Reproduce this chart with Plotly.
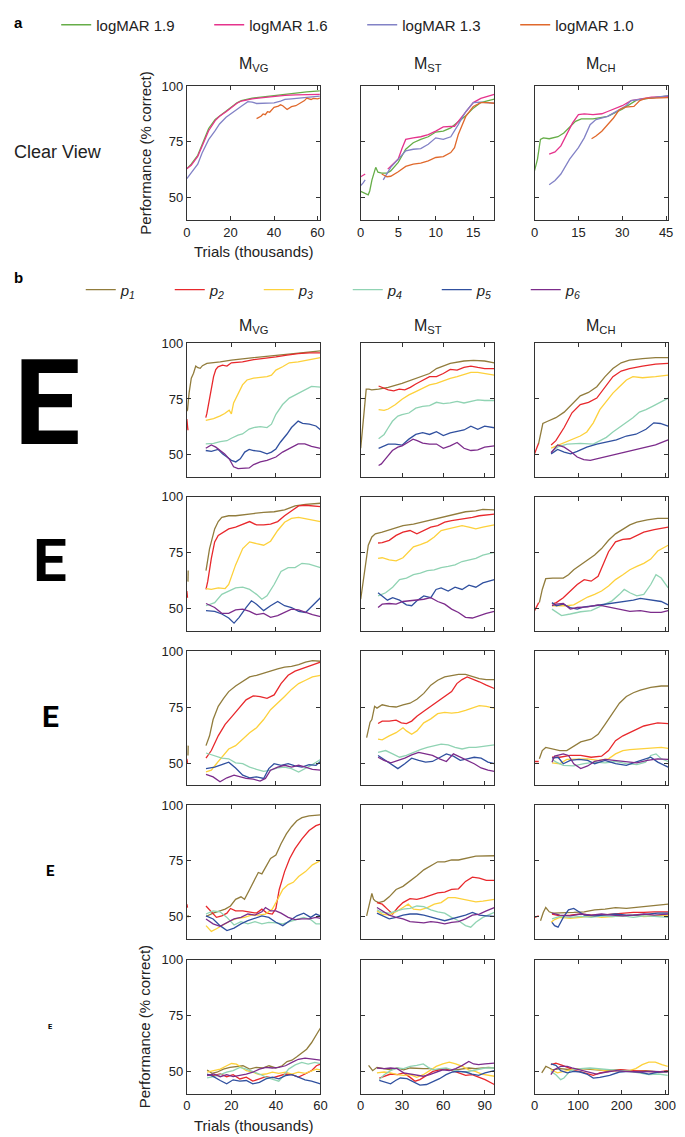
import plotly.graph_objects as go

# page body has an 8px margin; figure is sized so that it ends at the window edge
OFF_X, OFF_Y = 8, 12
W, H = 685 - 8, 1137 - 8
FONT = "Liberation Sans, Arial, sans-serif"

# ---------------- Panel a : categories / styles ----------------
A_NAMES = ["logMAR 1.9", "logMAR 1.6", "logMAR 1.3", "logMAR 1.0"]
A_KEYS = ["19", "16", "13", "10"]
A_COLORS = ["#66ad48", "#e5338c", "#8282c6", "#e0692c"]
MODELS = ["VG", "ST", "CH"]
MODEL_TITLES = ["M<sub>VG</sub>", "M<sub>ST</sub>", "M<sub>CH</sub>"]
A_XTICKS = {"VG": [0, 20, 40, 60], "ST": [0, 5, 10, 15], "CH": [0, 15, 30, 45]}
A_XRANGE = {"VG": [0, 61.3], "ST": [0, 17.8], "CH": [0, 45.7]}
Y_TICKS = [50, 75, 100]

# ---------------- Panel a : data (thousands of trials, % correct) ----------------
A_VG_19_X = [0, 2, 5, 7, 10, 13, 15, 18, 20, 23, 25, 28, 30, 35, 40, 45, 50, 55, 61]
A_VG_19_Y = [63, 65, 69, 74, 81, 85, 86.5, 88.5, 90.2, 92.5, 93.5, 94.2, 94.6, 95.2, 95.8, 96.3, 96.9, 97.4, 97.8]
A_VG_16_X = [0, 2, 5, 7, 10, 13, 15, 18, 20, 23, 25, 28, 30, 35, 40, 45, 50, 55, 61]
A_VG_16_Y = [63, 64.5, 68.5, 73, 80, 84.5, 86.5, 88.5, 90, 92.3, 93.3, 94, 94.3, 94.8, 95.4, 95.8, 96.1, 96.2, 96.3]
A_VG_13_X = [0, 2, 5, 7, 10, 13, 15, 18, 20, 23, 25, 28, 30, 32, 35, 38, 40, 43, 45, 48, 50, 55, 61]
A_VG_13_Y = [58.5, 61, 65, 70, 76, 80, 83, 86, 87.5, 89.5, 91, 93, 92.8, 92.2, 92.3, 92.2, 92.5, 93.3, 94, 94.3, 94.5, 95, 95.5]
A_VG_10_X = [32, 34, 35, 36, 37, 38, 40, 42, 43, 44, 46, 47, 48, 50, 52, 54, 55, 57, 58, 60, 61]
A_VG_10_Y = [85.4, 86.5, 87.5, 87.2, 88.5, 88.3, 90.5, 91, 91.6, 91.2, 89.5, 90, 90.8, 91.2, 92.5, 93.5, 94.6, 94, 94.5, 94.3, 94.6]

A_ST_19_X = [0, 0.5, 1, 1.2, 1.5, 2, 2.3, 2.8, 3.5, 4, 5, 6, 7, 8, 9, 10, 11, 12, 13, 14, 15, 16, 17, 17.8]
A_ST_19_Y = [52.8, 52.2, 51.3, 53, 58, 63.6, 61.4, 61, 61, 62, 65.8, 71.7, 74.6, 76.1, 77.3, 79.4, 79.8, 81.3, 84.2, 86.7, 90.1, 92.6, 93.5, 94.1]
A_ST_16_X = [0, 0.3, 0.6, None, 3.6, 4, 5, 5.5, 6, 7, 8, 9, 10, 11, 12, 12.5, 13, 14, 15, 16, 17, 17.8]
A_ST_16_Y = [59.4, 60, 60.6, None, 62.8, 64, 67.3, 72, 76.1, 76.8, 77.3, 78.3, 79.8, 81.7, 82, 82, 84.2, 88.6, 92.6, 94.5, 95.5, 96.3]
A_ST_13_X = [0, 0.3, 0.6, None, 3, 4, 5, 6, 7, 8, 9, 10, 11, 12, 13, 14, 15, 16, 17, 17.8]
A_ST_13_Y = [55.5, 56.5, 58, None, 58, 63.6, 67.3, 71, 71.7, 72, 73.9, 76.8, 76.1, 77.3, 82.7, 88.6, 92.6, 92.8, 92.5, 92.3]
A_ST_10_X = [2.8, 3.5, 4, 5, 6, 7, 8, 9, 10, 11, 12, 12.5, 13, 14, 15, 16, 17, 17.8]
A_ST_10_Y = [60.6, 59.4, 59.6, 61.6, 64, 65, 65.5, 66.5, 68, 68.4, 70.2, 72.4, 78.3, 86.4, 90.9, 92.6, 92.6, 92.3]

A_CH_19_X = [0, 1, 2, 3, 5, 8, 10, 12, 14, 16, 20, 25, 30, 35, 40, 45.7]
A_CH_19_Y = [62.1, 67.3, 76.1, 76.8, 76.4, 77.3, 79, 81.7, 84.2, 85.3, 85.3, 86.4, 89.7, 93.8, 94.8, 95.6]
A_CH_16_X = [5, 7, 9, 11, 13, 15, 17, 20, 23, 25, 30, 33, 37, 40, 45.7]
A_CH_16_Y = [69.5, 70.5, 73.2, 78.3, 83.5, 87.2, 87.5, 87.2, 87.6, 88.6, 91.2, 93.5, 94.5, 95, 95.3]
A_CH_13_X = [5, 7, 9, 12, 15, 17, 19, 21, 25, 28, 31, 33, 37, 45.7]
A_CH_13_Y = [55.8, 57.7, 60.6, 67.3, 72.4, 76.8, 82.7, 85, 86.4, 88.6, 90.9, 93.5, 94.2, 95.7]
A_CH_10_X = [19.5, 21, 23, 25, 27, 29, 31, 34, 36, 38, 45.7]
A_CH_10_Y = [76.4, 77.6, 79.8, 82.7, 85.7, 89.4, 90.6, 90.9, 93.5, 94.5, 94.8]

# ---------------- Panel b : categories / styles ----------------
B_NAMES = ["<i>p<sub>1</sub></i>", "<i>p<sub>2</sub></i>", "<i>p<sub>3</sub></i>",
           "<i>p<sub>4</sub></i>", "<i>p<sub>5</sub></i>", "<i>p<sub>6</sub></i>"]
B_COLORS = ["#917c3c", "#e8282c", "#fdd13b", "#90d3b3", "#30509f", "#7c2c8b"]
B_XTICKS = {"VG": [0, 20, 40, 60], "ST": [0, 30, 60, 90], "CH": [0, 100, 200, 300]}
B_XRANGE = {"VG": [0, 60], "ST": [0, 97], "CH": [0, 307]}
E_SIZES = [118, 60, 30, 15, 7.5]   # optotype font sizes, one per row

# ---------------- Panel b : data ----------------
# Row 1
B1_VG_P1_X = [0, 0.3, 1, 2, 3, 4, 5, 6, 7, 9, 15, 20, 30, 40, 50, 60]
B1_VG_P1_Y = [69.6, 70, 77.6, 84.3, 86.5, 89.7, 89, 88.7, 89.9, 90.9, 91.6, 92.4, 93.5, 94.6, 95.7, 96.5]
B1_VG_P2_X = [0, 0.5, None, 8.5, 9, 10, 11, 12, 13, 14, 16, 18, 20, 25, 30, 35, 40, 45, 50, 55, 60]
B1_VG_P2_Y = [66, 61, None, 66.6, 68.5, 74, 80.6, 85, 88.2, 89.4, 90.1, 89.7, 91.2, 91.6, 92.6, 93.1, 93.8, 94.6, 95.3, 95.6, 95.6]
B1_VG_P3_X = [8.5, 12, 15, 17, 19, 20, 21, 23, 25, 27, 30, 33, 36, 38, 40, 43, 46, 50, 55, 60]
B1_VG_P3_Y = [65.4, 66.2, 67.4, 68.5, 70, 68.3, 73.2, 77.6, 81.3, 83.5, 84.3, 84.7, 85, 85.7, 87.9, 89.4, 91.2, 91.6, 92.6, 93.5]
B1_VG_P4_X = [8.5, 12, 15, 18, 20, 23, 25, 28, 30, 33, 36, 38, 40, 43, 46, 50, 53, 56, 60]
B1_VG_P4_Y = [54.9, 55.1, 55.9, 56.3, 57.4, 58.8, 59.3, 61.5, 62.2, 62.6, 62.2, 63.7, 68.1, 72.5, 75.4, 77.6, 79.1, 80.6, 80.3]
B1_VG_P5_X = [8.5, 11, 14, 16, 18, 20, 22, 24, 26, 28, 30, 33, 36, 38, 40, 42, 45, 47, 50, 52, 55, 58, 60]
B1_VG_P5_Y = [51.9, 51.5, 52.4, 50.4, 49, 47.5, 46.8, 48.2, 51.2, 52.4, 51.9, 51.5, 50.4, 51.2, 52.6, 55.6, 59.3, 62.2, 65.1, 64.1, 63.7, 62.9, 61.2]
B1_VG_P6_X = [8.5, 11, 13, 15, 17, 19, 21, 23, 26, 28, 30, 33, 36, 40, 43, 46, 50, 53, 56, 60]
B1_VG_P6_Y = [52.9, 54.4, 53.4, 51.9, 50.4, 48.2, 44.6, 43.8, 43.8, 44.1, 45.6, 46.8, 47.5, 49, 51.2, 52.9, 54.9, 54.9, 53.8, 52.9]

B1_ST_P1_X = [0, 1, 2, 3, 4, 6, 8, 13, 20, 30, 40, 50, 55, 65, 75, 82, 90, 97]
B1_ST_P1_Y = [52.9, 60, 68.8, 76.1, 79.4, 79.4, 79.1, 79.4, 80.2, 82, 84.2, 86.4, 88.6, 90.9, 92, 92.3, 92, 91.2]
B1_ST_P2_X = [13, 17, 20, 24, 28, 32, 36, 40, 45, 50, 55, 60, 65, 70, 75, 80, 85, 90, 97]
B1_ST_P2_Y = [80.8, 79.8, 79.1, 78.6, 79.4, 79.1, 80.2, 81.7, 83.5, 85, 85, 86.4, 88.2, 87.9, 89.1, 89.7, 89.1, 88.6, 88.6]
B1_ST_P3_X = [13, 17, 20, 25, 30, 35, 40, 45, 50, 55, 60, 65, 70, 75, 80, 85, 90, 97]
B1_ST_P3_Y = [70.2, 69.9, 70.5, 72.4, 74.9, 76.8, 78.3, 79.8, 81.3, 82, 83.2, 84.2, 85, 86, 86.9, 86.9, 86.4, 85.7]
B1_ST_P4_X = [13, 17, 20, 23, 27, 30, 35, 40, 45, 50, 55, 60, 65, 70, 75, 80, 85, 90, 97]
B1_ST_P4_Y = [57.2, 59.1, 62.1, 65, 67.3, 68, 68.7, 70.9, 71.7, 72, 73.5, 72.9, 73.2, 73.9, 73.2, 73.9, 74.6, 74.3, 74.3]
B1_ST_P5_X = [13, 17, 20, 25, 30, 35, 40, 45, 50, 55, 60, 65, 70, 75, 80, 85, 90, 97]
B1_ST_P5_Y = [52.9, 54, 54.8, 54.8, 54.3, 57, 59.1, 59.9, 59.1, 60.3, 58.6, 59.8, 60.3, 61.1, 62.8, 61.4, 62.8, 62.1]
B1_ST_P6_X = [13, 15, 18, 20, 23, 27, 30, 35, 38, 41, 45, 50, 55, 60, 65, 70, 75, 80, 85, 90, 97]
B1_ST_P6_Y = [45.2, 45.9, 48.2, 49.7, 51.9, 53.4, 54, 55.8, 57, 56.3, 55.2, 54.8, 54.8, 52.9, 54, 55.5, 52.9, 51.9, 52.2, 53.4, 54]

B1_CH_P1_X = [9, 14, 19, 30, 49, 68, 86, 105, 124, 143, 162, 180, 199, 218, 248, 278, 307]
B1_CH_P1_Y = [54.8, 60, 64, 65, 66.6, 69.1, 72.5, 76.4, 77.9, 80.5, 85, 88.6, 91.2, 92.4, 93.1, 93.5, 93.5]
B1_CH_P2_X = [0, 9, None, 38, 49, 68, 86, 105, 124, 143, 162, 180, 199, 218, 248, 278, 307]
B1_CH_P2_Y = [50.4, 55, None, 54.4, 56.3, 62.2, 68.8, 72.5, 73.5, 75.4, 80.5, 85, 87.5, 88.6, 89.7, 90.6, 90.9]
B1_CH_P3_X = [38, 60, 75, 90, 105, 120, 135, 150, 165, 180, 195, 211, 226, 248, 278, 307]
B1_CH_P3_Y = [53, 54.8, 55.8, 57.2, 58.4, 60.2, 64.3, 70.2, 73.9, 77.6, 80.5, 83.5, 85, 84.5, 85, 85.7]
B1_CH_P4_X = [38, 53, 75, 105, 135, 150, 165, 180, 195, 211, 226, 241, 256, 271, 286, 307]
B1_CH_P4_Y = [51.1, 53.5, 54.8, 55.1, 54.8, 56.3, 57.8, 60.2, 62.2, 64.3, 66.6, 69.1, 70.2, 71.7, 73.2, 75.4]
B1_CH_P5_X = [38, 53, 68, 83, 98, 120, 143, 165, 188, 211, 233, 256, 274, 289, 307]
B1_CH_P5_Y = [50.4, 52.4, 51.2, 50.4, 51.5, 53.4, 54.8, 55.8, 56.7, 58.4, 59.2, 61.4, 64.3, 64, 62.8]
B1_CH_P6_X = [38, 53, 68, 83, 98, 113, 128, 143, 165, 188, 211, 233, 256, 278, 307]
B1_CH_P6_Y = [50.9, 54.4, 53.4, 51.5, 49, 47.8, 47.5, 48.2, 49.4, 50.4, 51.2, 52.4, 53.4, 54.4, 56.7]

# Row 2
B2_VG_P1_X = [0.5, 0.6, None, 8.6, 10.2, 12.5, 14.1, 15.7, 18.8, 21.9, 26.6, 29.8, 34.5, 39.2, 43.9, 48.6, 53.3, 60]
B2_VG_P1_Y = [62, 67, None, 66.9, 76.8, 85.6, 88.9, 90.8, 91.5, 91.5, 91.9, 92.5, 93, 93.3, 94.1, 95.9, 96.6, 97.1]
B2_VG_P2_X = [0, 0.3, None, 8.6, 9.4, 11, 12.5, 14.1, 16.5, 18.8, 21.9, 25.1, 28.2, 31.3, 34.5, 37.6, 40.8, 43.9, 47, 50.2, 53.3, 60]
B2_VG_P2_Y = [57.8, 54.8, None, 58.5, 62.2, 72.4, 79.8, 82.7, 84.2, 85.6, 86.4, 87.8, 88.9, 87.4, 87.4, 87.8, 88.9, 91.5, 93.7, 95.9, 96.2, 95.6]
B2_VG_P3_X = [8.6, 11, 14.1, 17.2, 18.8, 20.4, 21.9, 25.1, 28.2, 31.3, 34.5, 37.6, 40.8, 43.9, 47, 50.2, 53.3, 56.4, 60]
B2_VG_P3_Y = [58.9, 58.5, 59.2, 58.9, 60.7, 65.1, 69.5, 76.8, 79.8, 79, 78.3, 80.1, 84.9, 88.6, 90.3, 90.8, 90.3, 89.7, 88.9]
B2_VG_P4_X = [8.6, 12.5, 15.7, 18.8, 21.9, 25.1, 28.2, 31.3, 33.7, 36, 39.2, 42.3, 45.5, 48.6, 51.7, 54.9, 58, 60]
B2_VG_P4_Y = [51.2, 52.6, 56.3, 57.8, 59.2, 59.5, 58.5, 56.3, 54.1, 55.6, 60.7, 66.6, 68.3, 68.3, 70.2, 69.8, 68.8, 68.3]
B2_VG_P5_X = [8.6, 12.5, 15.7, 18.8, 21.2, 23.5, 26.6, 29, 31.3, 34.5, 37.6, 40.8, 43.9, 47, 50.2, 53.3, 56.4, 60]
B2_VG_P5_Y = [49, 48.7, 47.5, 45.7, 43.4, 46, 50.4, 53.4, 51.9, 49, 51.2, 53.1, 51.2, 50.4, 48.7, 48.2, 51.2, 54.8]
B2_VG_P6_X = [8.6, 12.5, 15.7, 18.8, 21.9, 25.1, 28.2, 31.3, 34.5, 37.6, 40.8, 43.9, 47, 50.2, 53.3, 56.4, 60]
B2_VG_P6_Y = [52.2, 50.4, 47.8, 47.8, 49.3, 49.7, 48.7, 47.2, 47.8, 46, 46.8, 48.2, 49.7, 49.3, 48.2, 47.2, 46.3]

B2_ST_P1_X = [0, 1.8, 3.5, 5.5, 8.1, 10.6, 15.6, 23.2, 30.7, 38.3, 45.8, 53.4, 61, 68.5, 76.1, 83.6, 88.7, 97]
B2_ST_P1_Y = [54.1, 62.9, 71, 78.3, 82, 83.4, 84.2, 85.6, 87.1, 87.8, 88.9, 90, 90.8, 92.2, 93.3, 93.7, 94.4, 94.1]
B2_ST_P2_X = [12.6, 15.6, 20.7, 25.7, 30.7, 35.8, 40.8, 45.8, 50.9, 55.9, 61, 66, 71, 76.1, 81.1, 86.1, 97]
B2_ST_P2_Y = [79.3, 79.5, 80.5, 82.7, 84.2, 84.9, 83.4, 84.9, 86.4, 87.1, 88.6, 89.3, 89.7, 90.3, 90.8, 91.5, 92.2]
B2_ST_P3_X = [12.6, 15.6, 20.7, 25.7, 30.7, 34.5, 38.3, 43.3, 48.4, 53.4, 58.4, 63.5, 68.5, 73.6, 78.6, 83.6, 88.7, 97]
B2_ST_P3_Y = [72.4, 72.7, 71.7, 71.3, 72.7, 75.4, 77.6, 78.6, 79.8, 82, 84.9, 85.6, 86.4, 87.1, 86.4, 85.6, 86.4, 87.4]
B2_ST_P4_X = [12.6, 18.1, 23.2, 28.2, 33.2, 38.3, 43.3, 48.4, 53.4, 58.4, 63.5, 68.5, 73.6, 78.6, 83.6, 88.7, 97]
B2_ST_P4_Y = [55.6, 57, 59.5, 62.9, 63.6, 65.1, 65.8, 66.9, 67.3, 68.3, 68.8, 69.5, 71, 71.7, 72.4, 73.9, 75.1]
B2_ST_P5_X = [12.6, 15.6, 19.4, 23.2, 28.2, 33.2, 37, 40.8, 45.8, 50.9, 54.7, 58.4, 63.5, 68.5, 73.6, 78.6, 83.6, 88.7, 97]
B2_ST_P5_Y = [57, 55.6, 53.7, 54.8, 53.7, 51.6, 51.2, 53.4, 55.6, 54.8, 58.5, 59.2, 57.8, 59.5, 58.5, 60.4, 59.5, 61.4, 62.9]
B2_ST_P6_X = [12.6, 15.6, 20.7, 25.7, 30.7, 35.8, 40.8, 45.8, 50.9, 55.9, 61, 66, 71, 76.1, 81.1, 86.1, 91.2, 97]
B2_ST_P6_Y = [50.4, 51.9, 52.2, 51.9, 53.1, 53.4, 53.7, 54.1, 54.8, 53.1, 51.9, 49.7, 48.2, 46, 45.7, 46.8, 47.8, 48.7]

B2_CH_P1_X = [11, 17.7, 25.7, 41.8, 65.9, 78, 90, 106, 122, 138, 154, 170, 186, 203, 219, 235, 259, 283, 307]
B2_CH_P1_Y = [52.6, 58.5, 63.3, 63.6, 63.6, 65.1, 67.3, 69.5, 71.7, 73.9, 76.8, 80.5, 83.4, 85.6, 87.4, 88.6, 89.7, 90.3, 90.3]
B2_CH_P2_X = [0, 9.6, None, 40, 50, 66, 82, 98, 114, 130, 146, 158, 170, 186, 203, 219, 235, 251, 275, 307]
B2_CH_P2_Y = [49, 52.6, None, 51.9, 52.6, 54.8, 57.8, 60.7, 62.9, 62.2, 64.4, 69.5, 75.4, 79.8, 80.9, 81.2, 82.7, 84.2, 85.3, 86.4]
B2_CH_P3_X = [40, 74, 90, 106, 122, 138, 154, 170, 186, 203, 219, 235, 251, 267, 283, 307]
B2_CH_P3_Y = [51.2, 51.2, 51.6, 53.4, 55.1, 56.3, 57.8, 60, 62.9, 65.1, 67.3, 68.8, 70.2, 72.1, 75.7, 78.3]
B2_CH_P4_X = [40, 50, 62, 82, 106, 130, 154, 178, 195, 206, 219, 235, 251, 267, 279, 291, 307]
B2_CH_P4_Y = [49.7, 48.2, 46.8, 47.5, 48.5, 49, 51.2, 53.4, 56.3, 58.5, 57, 55.6, 56.3, 60.7, 65.1, 63.6, 59.2]
B2_CH_P5_X = [40, 50, 66, 82, 98, 114, 138, 162, 186, 211, 227, 243, 267, 291, 307]
B2_CH_P5_Y = [52.6, 51.2, 51.9, 50.4, 49.7, 50.7, 51.2, 51.9, 52.6, 53.1, 53.7, 54.5, 53.7, 53.1, 51.6]
B2_CH_P6_X = [40, 50, 66, 82, 98, 122, 146, 170, 195, 219, 243, 267, 291, 307]
B2_CH_P6_Y = [51.2, 51.9, 52.2, 49.7, 50.4, 50.7, 51.6, 50.7, 49.7, 48.7, 49, 48.2, 48.2, 49]

# Row 3
B3_VG_P1_X = [0.5, 0.6, None, 8.6, 10.2, 11.8, 14.1, 16.5, 18.8, 21.9, 25.1, 28.2, 31.3, 34.5, 37.6, 40.8, 43.9, 47, 50.2, 53.3, 56.4, 60]
B3_VG_P1_Y = [53.4, 57.8, None, 57.8, 62.2, 69.5, 75.4, 79, 82, 84.5, 86.4, 88.6, 89.3, 90.3, 91.5, 92.2, 93, 93.3, 94.1, 95.2, 95.9, 95.6]
B3_VG_P2_X = [0, 0.3, None, 8.6, 11, 14.1, 17.2, 20.4, 23.5, 26.6, 29.8, 32.9, 36, 39.2, 42.3, 45.5, 48.6, 51.7, 54.9, 58, 60]
B3_VG_P2_Y = [51.9, 50.1, None, 52.2, 55.6, 62.2, 67.3, 71, 74.6, 78.3, 80.1, 79.8, 79, 80.5, 85.6, 89.3, 91.2, 92.2, 93.3, 94.4, 95.2]
B3_VG_P3_X = [8.6, 11, 13.3, 15.7, 18.8, 21.9, 25.1, 28.2, 31.3, 34.5, 37.6, 40.8, 43.9, 47, 50.2, 53.3, 56.4, 60]
B3_VG_P3_Y = [46, 46.8, 49.7, 52.6, 56.3, 57.8, 60.7, 63.6, 65.8, 69.5, 73.9, 76.8, 79.8, 83, 85.6, 87.1, 88.6, 89.3]
B3_VG_P4_X = [8.6, 12.5, 15.7, 18.8, 21.9, 25.1, 28.2, 31.3, 34.5, 37.6, 40.8, 43.9, 47, 50.2, 53.3, 56.4, 60]
B3_VG_P4_Y = [54.5, 53.4, 52.2, 51.9, 50.1, 49.7, 48.2, 47.2, 46.3, 46.8, 47.8, 48.2, 47.5, 46, 47.5, 49.3, 51.6]
B3_VG_P5_X = [8.6, 12.5, 15.7, 18.8, 21.9, 25.1, 28.2, 31.3, 34.5, 36.8, 39.2, 42.3, 45.5, 48.6, 51.7, 54.9, 58, 60]
B3_VG_P5_Y = [47.5, 48.2, 49.3, 50.4, 47.8, 44.6, 43.4, 43.8, 43.1, 47.5, 49.7, 49, 49.7, 48.7, 48.2, 49.3, 49, 50.7]
B3_VG_P6_X = [8.6, 11.8, 14.9, 18, 21.2, 24.3, 26.6, 29.8, 32.9, 35.3, 37.6, 40.8, 43.9, 47, 50.2, 53.3, 56.4, 60]
B3_VG_P6_Y = [44.9, 43.8, 41.6, 43.4, 44.6, 43.8, 43.1, 42.8, 41.9, 43.1, 46.8, 48.2, 49, 48.2, 49, 48.2, 47.2, 46.8]

B3_ST_P1_X = [4.3, 6.8, 8.1, 10.1, 11.8, 15.6, 20.7, 25.7, 30.7, 35.8, 40.8, 45.8, 50.9, 55.9, 61, 66, 71, 76.1, 81.1, 86.1, 91.2, 97]
B3_ST_P1_Y = [61.4, 68.3, 69.5, 75.4, 74.6, 76.1, 75.4, 75.1, 76.1, 76.8, 78.6, 81.2, 84.9, 87.1, 88.6, 89.3, 89.7, 89.7, 88.9, 87.8, 87.4, 87.4]
B3_ST_P2_X = [12.6, 15.6, 20.7, 25.7, 29.5, 33.2, 37, 40.8, 45.8, 50.9, 55.9, 61, 66, 69.8, 73.6, 77.3, 81.1, 86.1, 91.2, 97]
B3_ST_P2_Y = [67.7, 68.8, 68.8, 69.2, 68, 67.7, 68.8, 71, 73.2, 75.4, 77.6, 79.8, 82, 85.6, 87.4, 88.6, 87.8, 86.4, 84.9, 83.4]
B3_ST_P3_X = [12.6, 15.6, 20.7, 25.7, 30.7, 33.2, 37, 40.8, 45.8, 50.9, 55.9, 61, 66, 71, 76.1, 81.1, 86.1, 91.2, 97]
B3_ST_P3_Y = [60.7, 60.4, 62.2, 63.6, 65.8, 64.4, 62.9, 64.4, 68, 69.8, 72.1, 72.7, 72.4, 72.7, 73.6, 74.6, 75.7, 75.4, 74.6]
B3_ST_P4_X = [12.6, 18.1, 23.2, 28.2, 33.2, 38.3, 43.3, 48.4, 53.4, 58.4, 63.5, 68.5, 73.6, 78.6, 83.6, 88.7, 97]
B3_ST_P4_Y = [54.8, 55.6, 54.1, 52.6, 53.4, 54.8, 56, 57, 57.8, 58.5, 58.1, 57, 56.3, 57, 57, 57.5, 58.1]
B3_ST_P5_X = [12.6, 16.9, 21.9, 27, 32, 37, 42.1, 47.1, 52.1, 57.2, 62.2, 67.3, 72.3, 77.3, 82.4, 87.4, 92.4, 97]
B3_ST_P5_Y = [53.4, 51.6, 49.7, 47.5, 49.7, 52.2, 51.2, 50.4, 50.7, 52.6, 54.1, 53.1, 51.2, 51.9, 52.6, 52.2, 50.4, 49.7]
B3_ST_P6_X = [12.6, 16.9, 21.9, 27, 32, 37, 42.1, 47.1, 52.1, 57.2, 62.2, 67.3, 72.3, 77.3, 82.4, 87.4, 92.4, 97]
B3_ST_P6_Y = [52.6, 51.2, 50.1, 51.2, 52.2, 53.7, 54.8, 54.1, 53.4, 51.9, 50.7, 54.1, 52.6, 51.2, 49.7, 47.8, 46.8, 46.3]

B3_CH_P1_X = [11, 17.7, 25.7, 41.8, 57.9, 74, 86, 106, 130, 146, 162, 178, 195, 211, 227, 243, 267, 291, 307]
B3_CH_P1_Y = [51.9, 55.6, 57, 56.3, 55.6, 55.6, 57, 59.5, 60.7, 62.9, 67.3, 71.7, 76.8, 79.8, 81.5, 82.7, 83.9, 84.5, 84.5]
B3_CH_P2_X = [0, 9.6, None, 40, 58, 82, 106, 130, 154, 170, 186, 203, 219, 235, 251, 267, 283, 307]
B3_CH_P2_Y = [50.7, 50.7, None, 52.6, 52.6, 53.4, 53.4, 52.6, 53.1, 55.6, 60, 62.2, 63.6, 65.1, 66.6, 67.3, 68, 67.7]
B3_CH_P3_X = [40, 58, 74, 98, 122, 146, 170, 186, 203, 219, 243, 267, 291, 307]
B3_CH_P3_Y = [50.1, 49.7, 51.6, 51.9, 51.9, 51.2, 51.9, 54.1, 55.6, 56, 56.3, 56.6, 57, 56.6]
B3_CH_P4_X = [40, 50, 66, 90, 114, 138, 162, 186, 211, 235, 255, 267, 279, 291, 307]
B3_CH_P4_Y = [51.6, 50.4, 49, 48.7, 49.7, 50.4, 50.1, 50.7, 49.7, 49.3, 50.4, 53.4, 54.1, 51.9, 50.7]
B3_CH_P5_X = [40, 54, 66, 82, 102, 122, 138, 162, 186, 211, 227, 251, 267, 283, 307]
B3_CH_P5_Y = [52.2, 52.6, 49.7, 51.2, 51.6, 51.2, 49.7, 51.2, 49.7, 49, 50.1, 51.6, 52.6, 50.4, 48.2]
B3_CH_P6_X = [40, 46, 66, 78, 90, 106, 122, 138, 162, 186, 211, 235, 259, 283, 307]
B3_CH_P6_Y = [50.4, 53.1, 54.1, 53.4, 49.7, 47.5, 48.7, 50.7, 51.6, 51.2, 50.7, 50.1, 51.2, 51.9, 51.6]

# Row 4
B4_VG_P1_X = [0.5, 0.6, None, 8.6, 11.8, 14.9, 17.2, 19.6, 21.9, 24.3, 25.9, 28.2, 30.6, 32.1, 33.7, 36, 37.6, 40, 42.3, 44.7, 47, 49.4, 51.7, 54.9, 60]
B4_VG_P1_Y = [49.7, 50.7, None, 50.1, 51.6, 52.6, 53.4, 54.8, 57.8, 58.9, 57.8, 62.2, 66.6, 69.8, 69.2, 73.2, 76.1, 77.6, 82.7, 87.1, 90.3, 93, 94.4, 95.2, 95.6]
B4_VG_P2_X = [0, 0.3, None, 8.6, 11, 13.3, 15.7, 18, 19.6, 21.9, 25.1, 28.2, 31.3, 33.7, 36, 38.4, 40, 41.5, 43.9, 46.2, 48.6, 51.7, 54.9, 58, 60]
B4_VG_P2_Y = [55.6, 54.1, None, 54.8, 52.2, 49.7, 50.4, 51.6, 53.7, 52.6, 52.6, 52.2, 51.6, 53.4, 51.6, 51.2, 53.7, 62.2, 70.2, 76.1, 80.5, 84.9, 88.6, 90.8, 91.5]
B4_VG_P3_X = [8.6, 11, 13.3, 16.5, 19.6, 22.7, 25.9, 29, 32.1, 35.3, 38.4, 40.8, 43.1, 45.5, 47.8, 50.2, 53.3, 56.4, 60]
B4_VG_P3_Y = [46, 43.4, 44.6, 46.3, 48.2, 49.3, 49.7, 50.7, 50.7, 51.2, 53.4, 57.8, 62.2, 64.4, 65.4, 68, 70.2, 73.2, 75.1]
B4_VG_P4_X = [8.6, 11.8, 14.9, 18, 21.2, 24.3, 27.4, 30.6, 33.7, 36.8, 40, 43.1, 46.2, 49.4, 52.5, 55.6, 58, 60]
B4_VG_P4_Y = [51.2, 52.6, 52.2, 49.7, 46.3, 47.8, 46.8, 47.8, 46.8, 47.5, 47.2, 46.8, 47.8, 48.7, 49.7, 48.7, 46.8, 46.8]
B4_VG_P5_X = [8.6, 11.8, 14.9, 18, 21.2, 24.3, 27.4, 30.6, 33.7, 36.8, 40, 43.1, 46.2, 49.4, 52.5, 55.6, 58, 60]
B4_VG_P5_Y = [50.4, 49, 46, 43.8, 44.9, 46.8, 48.2, 49.3, 50.4, 49.7, 47.5, 46, 48.2, 50.4, 51.6, 49.7, 51.2, 50.4]
B4_VG_P6_X = [8.6, 11.8, 14.9, 18, 21.2, 24.3, 27.4, 30.6, 33.7, 35.3, 37.6, 40, 42.3, 45.5, 48.6, 51.7, 54.9, 58, 60]
B4_VG_P6_Y = [49, 46.8, 45.7, 47.5, 49, 49.7, 51.2, 50.7, 52.2, 54.1, 52.6, 52.6, 51.6, 49.7, 48.7, 49, 49, 49.7, 49.3]

B4_ST_P1_X = [4.3, 6, 8.1, 9.3, 10.6, 13.1, 16.9, 20.7, 25.7, 30.7, 35.8, 40.8, 45.8, 50.9, 55.9, 61, 66, 71, 76.1, 83.6, 97]
B4_ST_P1_Y = [50.4, 55.6, 60.4, 57.8, 57, 56.3, 57, 58.9, 62.2, 63.6, 65.8, 68.3, 71, 72.7, 74.6, 74.6, 75.4, 75.4, 76.1, 77.1, 77.3]
B4_ST_P2_X = [11.8, 15.6, 19.4, 23.2, 27, 30.7, 35.8, 40.8, 45.8, 50.9, 55.9, 61, 66, 71, 76.1, 81.1, 86.1, 91.2, 97]
B4_ST_P2_Y = [56.3, 55.6, 53.4, 51.2, 54.1, 56.3, 58.1, 57.8, 58.5, 59.5, 60.7, 61, 62.2, 62.5, 65.8, 67.7, 67.3, 66.3, 66.3]
B4_ST_P3_X = [11.8, 15.6, 20.7, 25.7, 30.7, 34.5, 38.3, 43.3, 48.4, 53.4, 58.4, 63.5, 68.5, 73.6, 78.6, 83.6, 88.7, 97]
B4_ST_P3_Y = [52.6, 51.2, 50.7, 52.2, 54.1, 55.6, 53.4, 53.1, 54.1, 55.6, 56.3, 58.5, 58.5, 57.8, 57, 56.6, 57, 57.8]
B4_ST_P4_X = [11.8, 15.6, 20.7, 25.7, 30.7, 35.8, 40.8, 45.8, 50.9, 55.9, 61, 66, 71, 76.1, 79.9, 83.6, 88.7, 97]
B4_ST_P4_Y = [53.1, 51.9, 51.6, 52.6, 53.4, 53.7, 54.8, 54.5, 53.1, 52.2, 51.6, 49.7, 48.2, 46, 45.3, 47.5, 49.7, 51.9]
B4_ST_P5_X = [11.8, 15.6, 20.7, 25.7, 30.7, 35.8, 40.8, 45.8, 50.9, 55.9, 61, 66, 71, 76.1, 81.1, 86.1, 91.2, 97]
B4_ST_P5_Y = [51.6, 50.4, 49, 49.7, 50.7, 51.2, 51.2, 50.7, 49.7, 49, 48.2, 49, 49.7, 50.7, 51.9, 50.7, 50.4, 50.1]
B4_ST_P6_X = [11.8, 15.6, 20.7, 25.7, 30.7, 35.8, 40.8, 45.8, 50.9, 55.9, 61, 66, 71, 76.1, 81.1, 86.1, 91.2, 97]
B4_ST_P6_Y = [54.1, 52.6, 50.7, 49.7, 49, 47.8, 47.5, 47.2, 47.8, 47.5, 46.8, 47.5, 47.8, 49, 50.7, 51.2, 52.6, 54.1]

B4_CH_P1_X = [13.7, 20, 25.7, 33.8, 41.8, 66, 90, 114, 138, 162, 186, 211, 235, 259, 283, 307]
B4_CH_P1_Y = [48.2, 51.9, 54.1, 52.2, 51.6, 51.6, 51.9, 52.2, 53.1, 53.4, 54.1, 53.7, 54.1, 54.5, 55.1, 55.6]
B4_CH_P2_X = [0, 9.6, None, 40, 58, 82, 106, 130, 154, 178, 203, 227, 251, 275, 307]
B4_CH_P2_Y = [49.7, 50.4, None, 51.2, 50.4, 50.7, 51.2, 50.7, 50.7, 51.2, 51.6, 51.9, 51.9, 52.2, 52.2]
B4_CH_P3_X = [38, 46, 58, 82, 106, 130, 154, 178, 203, 227, 251, 275, 307]
B4_CH_P3_Y = [47.5, 48.7, 49.7, 49.3, 49.7, 50.4, 49.7, 50.1, 50.4, 50.7, 50.1, 50.4, 50.7]
B4_CH_P4_X = [40, 58, 82, 106, 130, 154, 178, 203, 227, 251, 275, 307]
B4_CH_P4_Y = [49, 50.1, 49.7, 50.1, 49.7, 50.4, 50.1, 50.4, 49.7, 50.4, 50.1, 49.7]
B4_CH_P5_X = [40, 46, 54, 66, 78, 90, 102, 114, 138, 162, 186, 211, 235, 259, 283, 307]
B4_CH_P5_Y = [47.5, 46, 45.3, 49.7, 53.1, 53.7, 52.2, 50.7, 50.4, 50.7, 51.2, 50.7, 50.7, 51.2, 51.6, 51.6]
B4_CH_P6_X = [40, 58, 82, 106, 130, 154, 178, 203, 227, 251, 275, 307]
B4_CH_P6_Y = [51.6, 50.7, 50.4, 51.2, 50.7, 51.2, 50.7, 50.4, 50.7, 51.2, 50.7, 51.2]

# Row 5
B5_VG_P1_X = [9.1, 11.3, 13.5, 16.4, 19.4, 22.3, 25.2, 28.2, 31.1, 34, 36.9, 39.9, 42.8, 45, 47.2, 49.4, 51.6, 53.8, 56, 58.2, 60]
B5_VG_P1_Y = [50.6, 49.1, 49.6, 51, 51.8, 52.1, 52.5, 51, 51.8, 51.5, 52.5, 51.5, 52.5, 54.4, 55, 56.5, 58.4, 59.9, 62.8, 66.5, 69.4]
B5_VG_P2_X = [9.1, 12, 15, 17.9, 20.8, 23.8, 26.7, 29.6, 32.6, 35.5, 38.4, 41.3, 44.3, 47.2, 50.1, 53.1, 56, 58.2, 60]
B5_VG_P2_Y = [48.5, 48.1, 48.8, 47.6, 48.5, 46.6, 47.4, 45.6, 46.6, 47.6, 47.1, 48.1, 48.8, 48.5, 47.4, 48.8, 50.3, 52.5, 53.2]
B5_VG_P3_X = [9.1, 12, 15, 17.9, 20.1, 22.3, 24.6, 26.7, 29.6, 32.6, 35.5, 38.4, 41.3, 44.3, 47.2, 50.1, 53.1, 56, 58.2, 60]
B5_VG_P3_Y = [49.6, 50.3, 51, 52.5, 53.5, 53.2, 51.5, 50.3, 49.6, 48.5, 48.8, 49.6, 49.1, 49.6, 48.8, 49.6, 49.1, 50.3, 51, 50.6]
B5_VG_P4_X = [9.1, 12, 15, 17.9, 20.8, 23.8, 26.7, 29.6, 32.6, 35.5, 38.4, 41.3, 43.5, 45.7, 48.7, 51.6, 54.5, 57.5, 60]
B5_VG_P4_Y = [47.1, 47.6, 48.5, 49.6, 50.3, 51.8, 51, 50, 48.8, 47.4, 46.6, 45.6, 48.1, 51, 52.9, 54, 53.2, 54, 53.5]
B5_VG_P5_X = [9.1, 12, 15, 17.9, 20.8, 23.8, 26.7, 29.6, 32.6, 35.5, 38.4, 41.3, 44.3, 47.2, 50.1, 53.1, 56, 60]
B5_VG_P5_Y = [48.8, 47.6, 45.9, 44.4, 46.2, 45.6, 45.9, 44.4, 45.1, 46.6, 47.4, 46.6, 48.1, 48.5, 47.4, 46.2, 45.6, 44.4]
B5_VG_P6_X = [9.1, 12, 15, 17.9, 20.8, 23.8, 26.7, 29.6, 32.6, 35.5, 38.4, 41.3, 44.3, 47.2, 50.1, 53.1, 56, 60]
B5_VG_P6_Y = [48.1, 48.8, 47.6, 48.5, 47.6, 48.1, 48.8, 49.6, 51, 51.8, 51.5, 51.8, 52.5, 54, 55.4, 55.9, 55.4, 55]

B5_ST_P1_X = [5.7, 7.6, 8.7, 11.8, 17, 21.7, 26.5, 31.2, 35.9, 40.7, 45.4, 50.1, 54.8, 59.6, 64.3, 69, 73.8, 78.5, 83.2, 87.9, 92.7, 97]
B5_ST_P1_Y = [52.7, 51.2, 50.3, 51.8, 51.2, 50.7, 51.5, 50.7, 51.5, 51.2, 51.2, 51.2, 50.7, 51.2, 50.7, 50.7, 51.2, 51.5, 51.2, 51.5, 51.8, 51.5]
B5_ST_P2_X = [13.5, 17, 21.7, 26.5, 31.2, 35.9, 39.5, 43, 47.8, 52.5, 57.2, 62, 66.7, 71.4, 76.2, 80.9, 85.6, 90.3, 97]
B5_ST_P2_Y = [47, 47.8, 48.8, 48.5, 49.3, 47.3, 45.6, 46.3, 48.2, 50, 50.7, 51.2, 50.3, 49.3, 48.2, 48.5, 47.3, 46.3, 44.1]
B5_ST_P3_X = [11.8, 17, 21.7, 26.5, 31.2, 35.9, 40.7, 45.4, 50.1, 54.8, 59.6, 64.3, 69, 73.8, 78.5, 83.2, 87.9, 92.7, 97]
B5_ST_P3_Y = [49.3, 49.7, 49.3, 48.5, 48.2, 48.5, 47.3, 48.5, 50.3, 52.2, 53.3, 54.1, 53.3, 52.2, 50.7, 50, 48.8, 48.2, 47.8]
B5_ST_P4_X = [13.5, 17, 21.7, 26.5, 31.2, 35.9, 40.7, 45.4, 49, 52.5, 57.2, 62, 66.7, 71.4, 76.2, 80.9, 85.6, 90.3, 97]
B5_ST_P4_Y = [46.3, 48.5, 50.3, 51.5, 51.2, 52.2, 52.7, 53.3, 51.8, 50.7, 51.2, 51.5, 50.7, 50, 49.7, 50.3, 51.2, 51.5, 51.5]
B5_ST_P5_X = [13.5, 17, 21.7, 25.3, 28.8, 33.6, 38.3, 43, 47.8, 52.5, 57.2, 62, 66.7, 71.4, 76.2, 80.9, 85.6, 90.3, 97]
B5_ST_P5_Y = [45.9, 45.3, 44.4, 45.9, 47, 46.7, 45.3, 43.8, 44.1, 45.3, 46.7, 48.5, 49.7, 50, 49.7, 48.8, 48.2, 49.3, 50.3]
B5_ST_P6_X = [11.8, 17, 21.7, 26.5, 31.2, 35.9, 40.7, 45.4, 50.1, 54.8, 59.6, 64.3, 69, 73.8, 78.5, 82, 85.6, 90.3, 97]
B5_ST_P6_Y = [51.5, 51.2, 51.5, 51.2, 49.3, 48.8, 48.5, 47.8, 48.5, 49.7, 50.7, 50.3, 51.2, 52.7, 54.4, 53.3, 53, 53.3, 53.7]

B5_CH_P1_X = [16.5, 26, 34, 41, 60, 82.5, 105, 135, 165, 195, 225, 255, 285, 306]
B5_CH_P1_Y = [49.3, 52.2, 51.5, 50.7, 51.2, 50.7, 51.2, 50.7, 50.3, 50.7, 50, 50.3, 49.7, 50]
B5_CH_P2_X = [37.5, 49, 64, 79, 94, 109, 124, 135, 150, 172.5, 195, 225, 255, 285, 306]
B5_CH_P2_Y = [53, 53.7, 52.7, 51.5, 50.3, 49.7, 48.8, 48.2, 49.3, 50, 50.7, 50.3, 50, 49.7, 50.3]
B5_CH_P3_X = [37.5, 52.5, 67.5, 82.5, 105, 127.5, 150, 172.5, 195, 217.5, 232.5, 247.5, 262.5, 277.5, 292.5, 306]
B5_CH_P3_Y = [50.7, 49.3, 50, 50.7, 51.2, 51.2, 50.7, 50, 50.3, 50.3, 51.2, 53, 54.1, 54.1, 53, 52.2]
B5_CH_P4_X = [37.5, 49, 60, 67.5, 82.5, 105, 127.5, 150, 172.5, 195, 217.5, 240, 262.5, 285, 306]
B5_CH_P4_Y = [50, 48.5, 46.3, 47, 50.3, 51.2, 51.5, 51.2, 50.7, 50.3, 50, 49.3, 48.5, 48.8, 48.2]
B5_CH_P5_X = [37.5, 49, 60, 75, 90, 105, 120, 135, 150, 172.5, 195, 217.5, 240, 262.5, 285, 306]
B5_CH_P5_Y = [53.3, 52.7, 50.3, 49.3, 50, 49.7, 48.8, 47, 47.3, 48.2, 49.7, 50, 49.7, 48.8, 49.7, 50]
B5_CH_P6_X = [37.5, 45, 60, 75, 86, 101, 120, 142.5, 165, 187.5, 210, 240, 270, 306]
B5_CH_P6_Y = [48.5, 50.7, 52.2, 52.2, 51.5, 50.7, 49.7, 48.8, 49.7, 50.3, 50, 49.7, 50, 49.7]

# ---------------- Layout geometry (window pixels) ----------------
COL_PX = [(186, 322), (363, 499), (540, 676)]
A_TOP = 74
B_TOPS = [335, 491, 648, 804, 961]
BOX_H = 136


def px(x):
    return (x - OFF_X) / W


def py(y):
    return 1 - (y - OFF_Y) / H


G = globals()
fig = go.Figure()
layout = {}
annotations = []

AX_COMMON = dict(showline=True, linecolor="#333333", linewidth=1, mirror="ticks",
                 ticks="inside", ticklen=4, tickwidth=1, tickcolor="#333333",
                 showgrid=False, zeroline=False, fixedrange=True,
                 tickfont=dict(family=FONT, size=13, color="#222222"))


def make_axes(k, col, top, xr, xt, show_x, show_y):
    sfx = "" if k == 1 else str(k)
    x0, x1 = COL_PX[col]
    layout["xaxis" + sfx] = dict(domain=[px(x0), px(x1)], range=xr, tickvals=xt,
                                 showticklabels=show_x, anchor="y" + sfx, **AX_COMMON)
    layout["yaxis" + sfx] = dict(domain=[py(top + BOX_H), py(top)], range=[40, 100],
                                 tickvals=Y_TICKS, showticklabels=show_y,
                                 anchor="x" + sfx, **AX_COMMON)
    return "x" + sfx, "y" + sfx


# ---- Panel a ----
k = 0
for c, m in enumerate(MODELS):
    k += 1
    xa, ya = make_axes(k, c, A_TOP, A_XRANGE[m], A_XTICKS[m], True, c == 0)
    for i, key in enumerate(A_KEYS):
        fig.add_trace(go.Scatter(
            x=G[f"A_{m}_{key}_X"], y=G[f"A_{m}_{key}_Y"], mode="lines",
            line=dict(color=A_COLORS[i], width=1.3), name=A_NAMES[i],
            xaxis=xa, yaxis=ya, legend="legend", showlegend=(c == 0),
            hoverinfo="skip"))
    x0, x1 = COL_PX[c]
    annotations.append(dict(text=MODEL_TITLES[c], x=px((x0 + x1) / 2), y=py(52),
                            xanchor="center", yanchor="middle",
                            font=dict(family=FONT, size=16, color="#222222")))

# ---- Panel b ----
for r in range(5):
    for c, m in enumerate(MODELS):
        k += 1
        xa, ya = make_axes(k, c, B_TOPS[r], B_XRANGE[m], B_XTICKS[m], r == 4, c == 0)
        for p in range(6):
            fig.add_trace(go.Scatter(
                x=G[f"B{r + 1}_{m}_P{p + 1}_X"], y=G[f"B{r + 1}_{m}_P{p + 1}_Y"],
                mode="lines", line=dict(color=B_COLORS[p], width=1.3),
                name=B_NAMES[p], xaxis=xa, yaxis=ya, legend="legend2",
                showlegend=(r == 0 and c == 0), hoverinfo="skip"))
    # optotype E for the row (largest one starts at the left edge of the figure)
    e_pos = dict(x=px(OFF_X), xanchor="left") if r == 0 else dict(x=px(47), xanchor="center")
    annotations.append(dict(text="<b>E</b>",
                            y=py(B_TOPS[r] + BOX_H / 2 - E_SIZES[r] * 0.05),
                            yanchor="middle",
                            font=dict(family="Roboto, Liberation Sans, Arial",
                                      size=E_SIZES[r], color="#000000"), **e_pos))

for c in range(3):
    x0, x1 = COL_PX[c]
    annotations.append(dict(text=MODEL_TITLES[c], x=px((x0 + x1) / 2), y=py(318),
                            xanchor="center", yanchor="middle",
                            font=dict(family=FONT, size=16, color="#222222")))

# axis titles
AX_TITLE_FONT = dict(family=FONT, size=15, color="#222222")
for top in (A_TOP, B_TOPS[4]):
    annotations.append(dict(text="Performance (% correct)", textangle=-90,
                            x=px(143), y=py(top + BOX_H / 2), xanchor="center",
                            yanchor="middle", font=AX_TITLE_FONT))
    annotations.append(dict(text="Trials (thousands)", x=px(sum(COL_PX[0]) / 2),
                            y=py(top + BOX_H + 32), xanchor="center", yanchor="middle",
                            font=AX_TITLE_FONT))

annotations.append(dict(text="Clear View", x=px(55), y=py(141), xanchor="center",
                        yanchor="middle", font=dict(family=FONT, size=18, color="#222222")))
annotations.append(dict(text="<b>a</b>", x=px(OFF_X), y=py(9), xanchor="left",
                        yanchor="middle", font=dict(family=FONT, size=15, color="#000000")))
annotations.append(dict(text="<b>b</b>", x=px(OFF_X), y=py(268), xanchor="left",
                        yanchor="middle", font=dict(family=FONT, size=15, color="#000000")))

for a in annotations:
    a.update(xref="paper", yref="paper", showarrow=False)

fig.update_layout(
    width=W, height=H,
    margin=dict(l=0, r=0, t=0, b=0),
    paper_bgcolor="white", plot_bgcolor="white",
    font=dict(family=FONT, color="#222222"),
    annotations=annotations,
    legend=dict(orientation="h", x=px(53), y=py(12), xanchor="left", yanchor="middle",
                entrywidth=108, entrywidthmode="pixels", itemwidth=30,
                bgcolor="rgba(0,0,0,0)", font=dict(family=FONT, size=15, color="#222222")),
    legend2=dict(orientation="h", x=px(78), y=py(281), xanchor="left", yanchor="middle",
                 entrywidth=44, entrywidthmode="pixels", itemwidth=30,
                 bgcolor="rgba(0,0,0,0)", font=dict(family=FONT, size=15, color="#222222")),
    showlegend=True,
    **layout,
)

fig.write_html("out.html")
